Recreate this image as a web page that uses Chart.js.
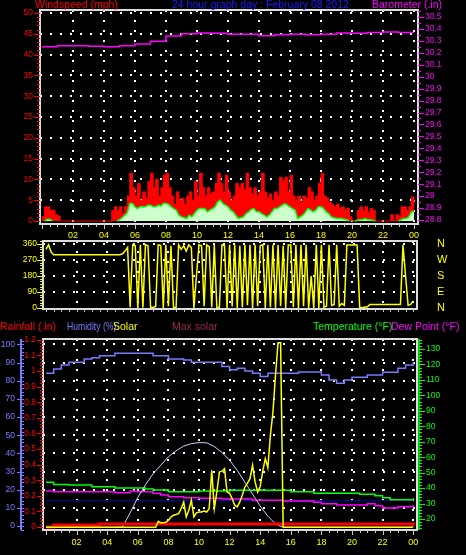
<!DOCTYPE html>
<html lang="en">
<head>
<meta charset="UTF-8">
<title>24 hour graph day : February 08 2012</title>
<script src="https://cdn.jsdelivr.net/npm/chart.js"></script>
<style>
  body { margin: 0; background: #000; }
  #wrap { position: relative; width: 466px; height: 555px; background: #000; overflow: hidden;
          font-family: "Liberation Sans", Arial, sans-serif; }
  canvas { position: absolute; left: 0; }
  .t { position: absolute; font-size: 10.5px; line-height: 11px; white-space: nowrap; }
</style>
</head>
<body>
<div id="wrap">
  <canvas id="windChart" width="466" height="244" style="top:0"></canvas>
  <canvas id="dirChart" width="466" height="82" style="top:238px"></canvas>
  <canvas id="envChart" width="466" height="235" style="top:320px"></canvas>

  <!-- headers -->
  <div class="t" style="left:35px;top:-1px;color:#ff0000">Windspeed (mph)</div>
  <div class="t" style="left:172px;top:-1px;color:#1a1aff">24 hour graph day : February 08 2012</div>
  <div class="t" style="left:372px;top:-1px;color:#ff00ff">Barometer (.in)</div>

  <!-- bottom legend -->
  <div class="t" style="left:0;top:321px;color:#ff0000">Rainfall (.in)</div>
  <div class="t" style="left:67px;top:321px;color:#7b7bff;transform:scaleX(0.82);transform-origin:left">Humidity (%)</div>
  <div class="t" style="left:113px;top:321px;color:#ffff00">Solar</div>
  <div class="t" style="left:172px;top:321px;color:#9b2d4b">Max solar</div>
  <div class="t" style="left:313px;top:321px;color:#00ff00">Temperature (°F)</div>
  <div class="t" style="left:391px;top:321px;color:#ff00ff">Dew Point (°F)</div>
</div>

<script>
// ---- time bases (hours) ----
const tenMin = Array.from({ length: 145 }, (_, i) => i / 6);
const halfHour = Array.from({ length: 49 }, (_, i) => i / 2);
const hourly = Array.from({ length: 25 }, (_, i) => i);

// ---- top panel: wind (mph) every 10 min, one row = 2 hours ----
const windGust = [
  1, 3.4, 3.4, 2.6, 2.6, 1.5, 1.2, 0, 0, 0, 0, 0,
  0, 0, 0, 0, 0, 0, 0, 0, 0, 0, 0, 0,
  0, 0, 0, 2.5, 3.4, 2.5, 3.4, 2, 3.5, 6, 11.5, 8,
  6, 9, 5, 7, 5.5, 9.5, 11.5, 8, 10, 6, 8, 11,
  11.5, 8, 6, 4, 7, 5, 5.5, 4, 6, 7, 5, 9.5,
  6, 11.5, 8, 6, 8, 6.5, 7, 9, 11.5, 9, 7, 11,
  7, 5, 6, 9, 8, 9, 7.5, 11.5, 8, 6.5, 8, 6,
  7, 11.5, 7, 5.5, 6.5, 5, 7, 6, 10.5, 9.5, 10.5, 7,
  11, 6, 5, 6, 4.5, 6, 5.5, 8, 7, 5, 6, 9,
  11.5, 6, 5.5, 4.5, 4, 3.4, 4, 3, 3.4, 2.5, 3, 1,
  0, 0, 2.5, 3.4, 2.6, 3.4, 2, 3, 2.6, 0, 0, 0,
  0, 0, 0, 1.5, 0, 1.5, 1.2, 3.4, 3.4, 2.5, 3.4, 5.8,
  4
];
const windAvg = [
  0, 0, 0.4, 0.4, 0, 0, 0, 0, 0, 0, 0, 0,
  0, 0, 0, 0, 0, 0, 0, 0, 0, 0, 0, 0,
  0, 0, 0, 0, 0, 0, 0.3, 0.8, 1.4, 2.0, 4.2, 4.2,
  3.4, 3.0, 3.4, 3.4, 3.4, 3.8, 3.8, 3.4, 3.4, 3.8, 3.6, 4.2,
  4.2, 4.0, 3.4, 3.0, 2.6, 1.4, 1.0, 0.8, 0.6, 1.4, 1.0, 1.8,
  2.6, 3.0, 3.0, 3.0, 2.2, 2.6, 3.0, 3.4, 4.6, 5.0, 4.2, 3.8,
  3.4, 2.6, 2.2, 1.4, 0.6, 0.8, 1.0, 1.8, 2.2, 2.8, 3.0, 2.2,
  2.2, 1.8, 1.4, 1.0, 1.4, 2.2, 3.0, 3.0, 3.4, 3.8, 4.2, 3.8,
  3.4, 3.0, 2.6, 0.6, 1.0, 1.4, 2.2, 3.0, 2.6, 2.2, 2.6, 3.4,
  3.4, 3.0, 2.2, 1.8, 1.0, 0.8, 0.6, 0.6, 0.6, 0.4, 0.3, 0,
  0, 0, 0.2, 0.3, 0.3, 0.6, 0.3, 0.3, 0.2, 0, 0, 0,
  0, 0, 0, 0, 0, 0, 0, 0.3, 0.6, 0.6, 1.0, 2.2,
  2.2
];
// barometer (in) hourly
const barometer = [30.25, 30.26, 30.26, 30.255, 30.25, 30.26, 30.274, 30.296, 30.34, 30.36, 30.366, 30.364,
  30.355, 30.355, 30.343, 30.352, 30.355, 30.352, 30.355, 30.366, 30.364, 30.37, 30.375, 30.37, 30.37];

// ---- middle panel: wind direction (deg) every 10 min ----
const windDir = [
  330, 355, 315, 300, 300, 300, 300, 300, 300, 300, 300, 300,
  300, 300, 300, 300, 300, 300, 300, 300, 300, 300, 300, 300,
  300, 300, 300, 300, 300, 300, 305, 320, 340, 5, 355, 350,
  0, 355, 2, 355, 350, 5, 3, 8, 355, 352, 0, 355,
  10, 350, 5, 0, 355, 330, 350, 320, 355, 340, 0, 180,
  355, 350, 10, 355, 345, 5, 355, 0, 5, 355, 350, 0,
  355, 8, 355, 0, 350, 5, 355, 15, 355, 0, 355, 10,
  350, 355, 0, 355, 5, 355, 0, 355, 10, 350, 0, 355,
  355, 5, 355, 0, 355, 10, 355, 0, 180, 0, 355, 0,
  355, 5, 10, 355, 15, 20, 355, 10, 25, 15, 355, 355,
  355, 355, 355, 5, 0, 5, 5, 20, 20, 20, 20, 20,
  20, 20, 20, 20, 20, 20, 20, 20, 355, 180, 15, 20,
  40
];

// ---- bottom panel ----
// solar (W/m2) every 10 min
const solar = [
  0, 0, 0, 0, 0, 0, 0, 0, 0, 0, 0, 0,
  0, 0, 0, 0, 0, 0, 0, 0, 0, 0, 0, 0,
  0, 0, 0, 0, 0, 0, 0, 0, 0, 0, 0, 0,
  0, 0, 0, 0, 0, 0, 0, 0, 35, 27, 27, 30,
  41, 60, 71, 75, 80, 110, 149, 61, 100, 159, 61, 85,
  90, 90, 95, 90, 110, 335, 110, 208, 325, 330, 345, 208,
  200, 169, 130, 120, 149, 190, 237, 260, 286, 365, 267, 208,
  240, 330, 404, 350, 541, 678, 894, 1086, 1086, 0, 0, 0,
  0, 0, 0, 0, 0, 0, 0, 0, 0, 0, 0, 0,
  0, 0, 0, 0, 0, 0, 0, 0, 0, 0, 0, 0,
  0, 0, 0, 0, 0, 0, 0, 0, 0, 0, 0, 0,
  0, 0, 0, 0, 0, 0, 0, 0, 0, 0, 0, 0,
  0
];
// half hourly, one row = 6 hours
const maxSolar = [
  0, 0, 0, 0, 0, 0, 0, 0, 0, 0, 2, 85,
  175, 250, 315, 365, 415, 450, 478, 492, 498, 497, 475, 440,
  395, 335, 265, 195, 125, 65, 20, 0, 0, 0, 0, 0,
  0, 0, 0, 0, 0, 0, 0, 0, 0, 0, 0, 0,
  0
];
const humidity = [
  84.1, 86.5, 88.7, 90.2, 90.2, 92, 92.7, 93.8, 93.8, 95.1, 95.1, 95.1,
  95.1, 95.1, 93.8, 93.8, 92, 92, 91.5, 90.2, 90.2, 90.2, 90.2, 87.8,
  86, 86.9, 85.4, 84.1, 82.3, 84.1, 84.1, 84.1, 84.1, 84.8, 84.8, 84.8,
  83.2, 80.4, 78.6, 80.4, 81.9, 81.9, 83.2, 83.2, 84.7, 84.7, 86.9, 88.7,
  90.2
];
const temperature = [
  43.7, 42.4, 42.4, 42, 42, 42, 40.9, 40.9, 40.9, 40, 40, 40,
  40, 39.4, 38.8, 38.8, 37.7, 37.7, 37.7, 37.7, 38.1, 38.1, 38.1, 38.1,
  38.6, 38.6, 38.6, 38.6, 38.6, 38.6, 38.6, 38.6, 37.7, 37.7, 37.7, 36.6,
  36.6, 36.6, 36.6, 36.6, 36.6, 36, 36, 35.1, 33.8, 32.5, 32.5, 32.5,
  33.4
];
const dewPoint = [
  38.1, 37.7, 37.7, 37.7, 37.7, 37.7, 37.7, 37.7, 37.7, 37, 37, 38.1,
  37.7, 37.7, 36.6, 35.5, 34.4, 34.4, 33.8, 33.8, 33.4, 33.4, 33.4, 32.9,
  32.9, 32.9, 32.9, 32.1, 32.1, 32.1, 32.1, 31.6, 31.6, 31.6, 31.6, 30.8,
  29.9, 29.9, 29, 29, 29, 29, 29.9, 28.6, 27.1, 27.1, 28, 28,
  29
];
const rainfall = [
  0, 0.013, 0.013, 0.013, 0.013, 0.013, 0.013, 0.02, 0.02, 0.02, 0.02, 0.02,
  0.02, 0.02, 0.02, 0.02, 0.02, 0.02, 0.02, 0.02, 0.02, 0.02, 0.02, 0.02,
  0.02, 0.02, 0.02, 0.02, 0.02, 0.02, 0.02, 0.02, 0.02, 0.02, 0.02, 0.02,
  0.02, 0.02, 0.02, 0.02, 0.02, 0.02, 0.02, 0.02, 0.02, 0.02, 0.02, 0.02,
  0.005
];
const freezeHours = [0, 24];
const freezeLine = [32, 32];

// ---- helpers ----
Chart.defaults.font.family = '"Liberation Sans", Arial, sans-serif';

const pts = (xs, ys) => xs.map((x, i) => ({ x, y: ys[i] }));
const isStep = (v, s) => Math.abs(v / s - Math.round(v / s)) < 1e-6;
const hourLabel = v => (isStep(v, 2) && v > 0.5) ? String(Math.round(v) % 24).padStart(2, '0') : '';
const dotGrid = s => ({
  color: c => (c.tick && isStep(c.tick.value, s) && Math.abs(c.tick.value) > 1e-6) ? '#ffffff' : 'rgba(0,0,0,0)',
  lineWidth: 2, drawTicks: false
});
const dots = { display: false, dash: [2, 8] };
const noGrid = { display: false, drawTicks: false };
const fix = (w, h) => s => {
  if (w != null) s.width = w;
  if (h != null) s.height = h;
  s.paddingTop = s.paddingBottom = s.paddingLeft = s.paddingRight = 0;
};
// keep the exact min/max from the options (ticks stay on whole steps)
const keepRange = s => { s.min = s.options.min; s.max = s.options.max; };
const common = {
  responsive: false, animation: false, events: [],
  plugins: { legend: { display: false }, tooltip: { enabled: false } },
  elements: { point: { radius: 0 }, line: { tension: 0 } }
};

function frame(c) {
  const a = c.chartArea, x = c.ctx;
  x.strokeStyle = '#dcdcdc';
  x.lineWidth = 2;
  x.strokeRect(a.left, a.top, a.right - a.left, a.bottom - a.top);
}
function marksY(c, id, step, x1, x2, col) {
  const s = c.scales[id], x = c.ctx;
  x.strokeStyle = col; x.lineWidth = 1; x.beginPath();
  for (let n = Math.ceil(s.min / step - 1e-9); n * step <= s.max + 1e-9; n++) {
    const y = Math.round(s.getPixelForValue(n * step)) + 0.5;
    x.moveTo(x1, y); x.lineTo(x2, y);
  }
  x.stroke();
}
function marksX(c, step, y1, y2, col) {
  const s = c.scales.x, x = c.ctx;
  x.strokeStyle = col; x.lineWidth = 1; x.beginPath();
  for (let n = 0; n * step <= 24 + 1e-9; n++) {
    const px = Math.round(s.getPixelForValue(n * step)) + 0.5;
    x.moveTo(px, y1); x.lineTo(px, y2);
  }
  x.stroke();
}
const decor = draw => ({
  id: 'decor',
  afterDatasetsDraw(c) { c.ctx.save(); draw(c, c.chartArea); c.ctx.restore(); }
});
const hourAxis = (min, max, h, labels) => ({
  type: 'linear', min, max, afterFit: fix(null, h), afterBuildTicks: keepRange,
  ticks: { stepSize: 2, includeBounds: false, autoSkip: false, maxRotation: 0, display: labels,
           color: '#ffff00', font: { size: 9 }, padding: 6, callback: hourLabel },
  grid: dotGrid(2), border: dots
});
const valueAxis = (pos, min, max, w, step, col, size, pad, fmt, grid) => ({
  position: pos, min, max, afterFit: fix(w), afterBuildTicks: keepRange,
  ticks: { stepSize: step, includeBounds: false, autoSkip: false, color: col, font: { size }, padding: pad,
           callback: v => isStep(v, step) ? fmt(v) : '' },
  grid: grid ? dotGrid(step) : noGrid, border: grid ? dots : { display: false }
});
const int = v => String(Math.round(v));
const tenth = v => String(Math.round(v * 10) / 10);

// ---- top: windspeed + barometer ----
new Chart(document.getElementById('windChart'), {
  type: 'line',
  data: {
    datasets: [
      { data: pts(hourly, barometer), yAxisID: 'baro', borderColor: '#ff00ff', borderWidth: 1.5, stepped: true },
      { data: pts(tenMin, windAvg), yAxisID: 'wind', borderColor: '#00ff00', backgroundColor: '#ccffcc',
        fill: 'origin', borderWidth: 1.5,
        segment: { borderColor: s => (s.p0.parsed.y === 0 && s.p1.parsed.y === 0) ? 'rgba(0,0,0,0)' : '#00ff00' } },
      { data: pts(tenMin, windGust), yAxisID: 'wind', borderColor: '#ff0000', backgroundColor: '#ff0000',
        fill: 'origin', borderWidth: 1, stepped: true }
    ]
  },
  options: {
    ...common,
    layout: { padding: { top: 10 }, autoPadding: false },
    scales: {
      x: hourAxis(-0.129, 24.258, 20, true),
      wind: valueAxis('left', -0.72, 50.72, 40, 5, '#ff0000', 8.5, 7, int, true),
      baro: valueAxis('right', 28.7665, 30.5586, 48, 0.1, '#ff00ff', 8.5, 7, tenth, false)
    }
  },
  plugins: [decor((c, a) => {
    frame(c);
    marksY(c, 'wind', 1, a.left - 3, a.left, '#ff0000');
    marksY(c, 'wind', 5, a.left - 6, a.left, '#ff0000');
    marksY(c, 'baro', 0.05, a.right, a.right + 3, '#ff00ff');
    marksY(c, 'baro', 0.1, a.right, a.right + 6, '#ff00ff');
    marksX(c, 0.5, a.bottom, a.bottom + 3, '#c8c8c8');
    marksX(c, 2, a.bottom, a.bottom + 5, '#c8c8c8');
  })]
});

// ---- middle: wind direction ----
const compass = { 0: 'N', 90: 'E', 180: 'S', 270: 'W', 360: 'N' };
new Chart(document.getElementById('dirChart'), {
  type: 'line',
  data: {
    datasets: [
      { data: pts(tenMin, windDir), yAxisID: 'dir', borderColor: '#ffff00', borderWidth: 1.5 }
    ]
  },
  options: {
    ...common,
    layout: { padding: { top: 3 }, autoPadding: false },
    scales: {
      x: hourAxis(-0.196, 24.248, 11, false),
      dir: valueAxis('left', -5.6, 376.9, 43, 90, '#ffff00', 8.5, 6, int, true),
      compass: valueAxis('right', -5.6, 376.9, 49, 90, '#ffff00', 11, 20, v => compass[Math.round(v)] || '', false)
    }
  },
  plugins: [decor((c, a) => {
    frame(c);
    marksY(c, 'dir', 15, a.left - 3, a.left, '#ffff00');
    marksY(c, 'dir', 90, a.left - 6, a.left, '#ffff00');
    marksX(c, 0.5, a.bottom, a.bottom + 3, '#c8c8c8');
  })]
});

// ---- bottom: rain, humidity, solar, temperature, dew point ----
const hum = valueAxis('left', -2.2, 103, 22, 10, '#7b7bff', 8.5, 7, int, true);
hum.weight = 1;
const rain = valueAxis('left', -0.019, 1.205, 21, 0.1, '#ff0000', 8.5, 7, tenth, false);
rain.weight = 0;
const bx = hourAxis(-0.196, 24.248, 25, true);
bx.ticks.padding = 7;

new Chart(document.getElementById('envChart'), {
  type: 'line',
  data: {
    datasets: [
      { data: pts(tenMin, solar), yAxisID: 'solar', borderColor: '#ffff00', borderWidth: 1.5 },
      { data: pts(halfHour, rainfall), yAxisID: 'rain', borderColor: '#ff0000', borderWidth: 3, stepped: true },
      { data: pts(halfHour, maxSolar), yAxisID: 'solar', borderColor: '#c4d6ff', borderWidth: 1 },
      { data: pts(halfHour, humidity), yAxisID: 'hum', borderColor: '#7b7bff', borderWidth: 1.5, stepped: true },
      { data: pts(halfHour, temperature), yAxisID: 'temp', borderColor: '#00ff00', borderWidth: 1.5, stepped: true },
      { data: pts(halfHour, dewPoint), yAxisID: 'temp', borderColor: '#ff00ff', borderWidth: 1.5, stepped: true },
      { data: pts(freezeHours, freezeLine), yAxisID: 'temp', borderColor: '#0000b4', borderWidth: 1 }
    ]
  },
  options: {
    ...common,
    layout: { padding: { top: 19 }, autoPadding: false },
    scales: {
      x: bx,
      hum,
      rain,
      temp: valueAxis('right', 12.88, 136.47, 49, 10, '#00ff00', 8.5, 9, int, false),
      solar: { display: false, min: -15.9, max: 1107.6 }
    }
  },
  plugins: [decor((c, a) => {
    frame(c);
    const h = c.scales.hum, x = c.ctx;
    x.strokeStyle = '#7b7bff'; x.lineWidth = 2;
    x.beginPath(); x.moveTo(h.right - 1, a.top); x.lineTo(h.right - 1, a.bottom); x.stroke();
    marksY(c, 'hum', 2, h.right - 1, h.right + 2, '#7b7bff');
    marksY(c, 'hum', 10, h.right - 5, h.right - 1, '#7b7bff');
    marksY(c, 'rain', 0.02, a.left - 3, a.left, '#ff0000');
    marksY(c, 'rain', 0.1, a.left - 6, a.left, '#ff0000');
    x.strokeStyle = '#00ff00'; x.lineWidth = 1.5;
    x.beginPath(); x.moveTo(a.right + 2, a.top); x.lineTo(a.right + 2, a.bottom); x.stroke();
    marksY(c, 'temp', 2, a.right + 2, a.right + 5, '#00ff00');
    marksY(c, 'temp', 10, a.right + 2, a.right + 8, '#00ff00');
    marksX(c, 0.5, a.bottom, a.bottom + 3, '#c8c8c8');
    marksX(c, 2, a.bottom, a.bottom + 5, '#c8c8c8');
  })]
});
</script>
</body>
</html>
